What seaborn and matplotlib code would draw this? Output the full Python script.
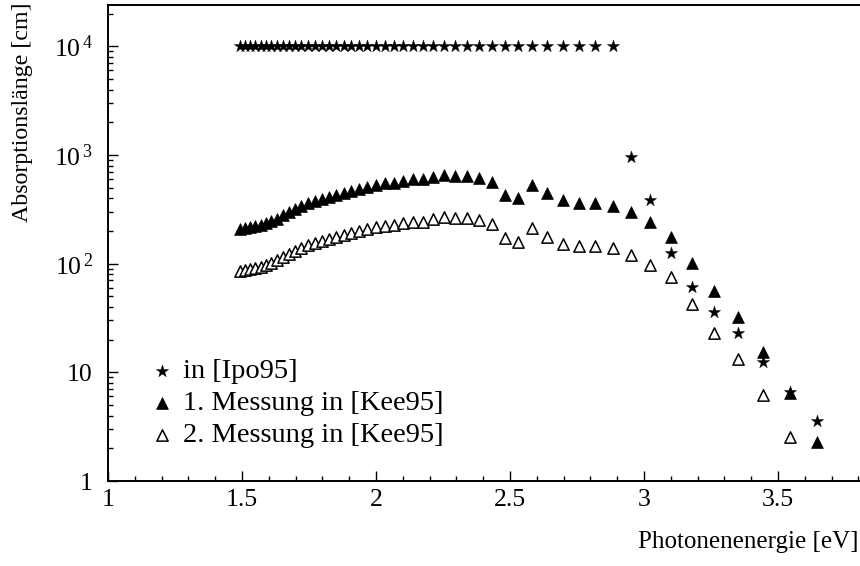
import matplotlib
matplotlib.use("Agg")
import matplotlib.pyplot as plt
import seaborn as sns
import pandas as pd
from matplotlib.ticker import MultipleLocator, LogLocator, NullFormatter

# ---- data (photon energy in eV, absorption length in cm) ----
star_x = [1.494, 1.512, 1.531, 1.550, 1.570, 1.590, 1.610, 1.632, 1.653, 1.676,
          1.699, 1.722, 1.746, 1.771, 1.797, 1.824, 1.851, 1.879, 1.908, 1.938,
          1.968, 2.000, 2.033, 2.067, 2.102, 2.138, 2.175, 2.214, 2.255, 2.296,
          2.340, 2.385, 2.431, 2.480, 2.531, 2.583, 2.638, 2.696, 2.756, 2.818,
          2.884, 2.952, 3.024, 3.100, 3.179, 3.263, 3.351, 3.444, 3.543, 3.647]
star_y = [10000, 10000, 10000, 10000, 10000, 10000, 10000, 10000, 10000, 10000,
          10000, 10000, 10000, 10000, 10000, 10000, 10000, 10000, 10000, 10000,
          10000, 10000, 10000, 10000, 10000, 10000, 10000, 10000, 10000, 10000,
          10000, 10000, 10000, 10000, 10000, 10000, 10000, 10000, 10000, 10000,
          10000, 950, 385, 125, 61, 36, 23, 12.4, 6.6, 3.56]

m1_x = [1.494, 1.512, 1.531, 1.550, 1.570, 1.590, 1.610, 1.632, 1.653, 1.676,
        1.699, 1.722, 1.746, 1.771, 1.797, 1.824, 1.851, 1.879, 1.908, 1.938,
        1.968, 2.000, 2.033, 2.067, 2.102, 2.138, 2.175, 2.214, 2.255, 2.296,
        2.340, 2.385, 2.431, 2.480, 2.531, 2.583, 2.638, 2.696, 2.756, 2.818,
        2.884, 2.952, 3.024, 3.100, 3.179, 3.263, 3.351, 3.444, 3.543, 3.647]
m1_y = [208, 212, 217, 222, 228, 235, 245, 260, 278, 298,
        318, 340, 360, 378, 395, 412, 430, 450, 470, 490,
        510, 530, 550, 555, 574, 598, 600, 624, 651, 638,
        638, 611, 561, 426, 400, 527, 445, 383, 360, 360,
        338, 298, 241, 175, 101, 56, 32, 15.4, 6.45, 2.28]

m2_x = [1.494, 1.512, 1.531, 1.550, 1.570, 1.590, 1.610, 1.632, 1.653, 1.676,
        1.699, 1.722, 1.746, 1.771, 1.797, 1.824, 1.851, 1.879, 1.908, 1.938,
        1.968, 2.000, 2.033, 2.067, 2.102, 2.138, 2.175, 2.214, 2.255, 2.296,
        2.340, 2.385, 2.431, 2.480, 2.531, 2.583, 2.638, 2.696, 2.756, 2.818,
        2.884, 2.952, 3.024, 3.100, 3.179, 3.263, 3.351, 3.444, 3.543]
m2_y = [86, 88, 90, 92, 94, 97, 101, 107, 114, 122,
        130, 139, 148, 155, 162, 169, 176, 184, 192, 200,
        208, 216, 224, 228, 236, 241, 243, 257, 268, 262,
        262, 250, 230, 172, 158, 212, 175, 151, 145, 145,
        139, 120, 97, 75, 42.4, 23, 13.2, 6.18, 2.54]

labels = ["in [Ipo95]", "1. Messung in [Kee95]", "2. Messung in [Kee95]"]
y_ticks = [1, 10, 100, 1000, 10000]
y_ticklabels = ["1", "10", r"$10^{\,2}$", r"$10^{\,3}$", r"$10^{\,4}$"]
x_ticks = [1, 1.5, 2, 2.5, 3, 3.5]
x_ticklabels = ["1", "1.5", "2", "2.5", "3", "3.5"]

sns.set_style("ticks")
plt.rcParams["font.family"] = ["Liberation Serif", "DejaVu Serif"]
plt.rcParams["mathtext.fontset"] = "custom"
plt.rcParams["mathtext.rm"] = "Liberation Serif"
plt.rcParams["mathtext.it"] = "Liberation Serif:italic"
plt.rcParams["mathtext.bf"] = "Liberation Serif:bold"
for key in ["text.color", "axes.labelcolor", "xtick.color", "ytick.color",
            "axes.edgecolor", "legend.labelcolor"]:
    plt.rcParams[key] = "black"

W, H = 860, 566
fig = plt.figure(figsize=(W / 100, H / 100), dpi=100)
ax = fig.add_axes([108 / W, 85 / H, (W - 108) / W, (481 - 5) / H])

df_s = pd.DataFrame({"x": star_x, "y": star_y})
df_1 = pd.DataFrame({"x": m1_x, "y": m1_y})
df_2 = pd.DataFrame({"x": m2_x, "y": m2_y})

sns.scatterplot(data=df_s, x="x", y="y", ax=ax, marker="*", s=85,
                color="black", edgecolor="black", linewidth=0.3, label=labels[0], zorder=3)
sns.scatterplot(data=df_1, x="x", y="y", ax=ax, marker="^", s=72,
                color="black", edgecolor="black", linewidth=0.5, label=labels[1], zorder=3)
sns.scatterplot(data=df_2, x="x", y="y", ax=ax, marker="^", s=66,
                facecolor="white", edgecolor="black", linewidth=1.1, label=labels[2], zorder=3)

ax.set_yscale("log")
ax.set_xlim(1, 3.806)
ax.set_ylim(1, 2.4e4)

ax.set_xticks(x_ticks)
ax.set_xticklabels(x_ticklabels)
ax.xaxis.set_minor_locator(MultipleLocator(0.1))
ax.set_yticks(y_ticks)
ax.set_yticklabels(y_ticklabels)
ax.yaxis.set_minor_locator(LogLocator(base=10, subs=range(2, 10), numticks=20))
ax.yaxis.set_minor_formatter(NullFormatter())

ax.tick_params(axis="both", which="major", direction="in", length=7.5, width=1.0,
               labelsize=18.5, color="black", labelcolor="black")
ax.tick_params(axis="both", which="minor", direction="in", length=3.8, width=1.0,
               color="black")
ax.tick_params(axis="x", which="major", pad=6)
ax.tick_params(axis="y", which="major", pad=11)

for side in ["left", "bottom", "top"]:
    ax.spines[side].set_visible(True)
    ax.spines[side].set_linewidth(1.4)
    ax.spines[side].set_color("black")
ax.spines["right"].set_visible(False)

ax.set_xlabel("")
ax.set_ylabel("")
fig.text(23 / W, 1 - 2 / H, "Absorptionslänge [cm]", rotation=90,
         ha="center", va="top", fontsize=17.2, color="black")
fig.text(859 / W, 1 - 542 / H, "Photonenenergie [eV]", ha="right",
         va="center", fontsize=18, color="black")

ax.legend(loc="upper left", bbox_to_anchor=(0.028, 0.300), frameon=False,
          fontsize=20.5, handlelength=0.9, handletextpad=0.3, labelspacing=0.22,
          borderpad=0.2, markerscale=1.0, labelcolor="black")

fig.savefig("out.png", dpi=100)
